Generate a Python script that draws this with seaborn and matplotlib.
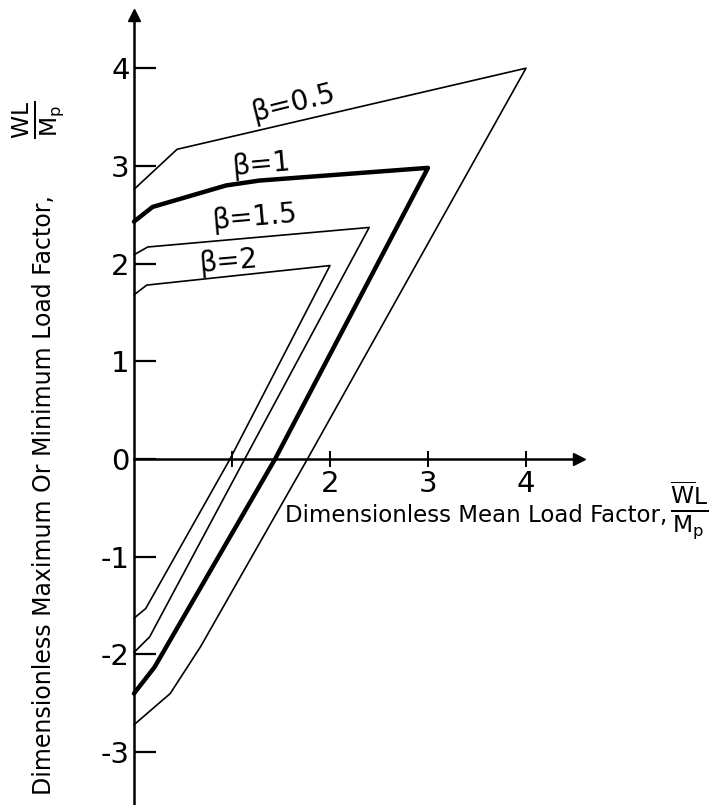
import pandas as pd
import matplotlib.pyplot as plt
import seaborn as sns

sns.set_style('white')
plt.rcParams['font.family'] = ['DejaVu Sans']
plt.rcParams['mathtext.fontset'] = 'dejavusans'
plt.rcParams['text.color'] = 'black'
plt.rcParams['xtick.color'] = 'black'
plt.rcParams['ytick.color'] = 'black'

# ------------------------------------------------------------
# curve vertices
# (mean load factor, max / min load factor)
# ------------------------------------------------------------
x_b05 = [0, 0.44, 4.0, 1.77, 0.68, 0.37, 0]
y_b05 = [2.76, 3.17, 4.0, 0, -1.92, -2.40, -2.72]

x_b1 = [0, 0.19, 0.94, 1.28, 3.0, 1.44, 0.21, 0]
y_b1 = [2.43, 2.58, 2.80, 2.85, 2.98, 0, -2.13, -2.40]

x_b15 = [0, 0.14, 2.4, 1.13, 0.16, 0]
y_b15 = [2.09, 2.17, 2.37, 0, -1.82, -1.98]

x_b2 = [0, 0.13, 2.0, 0.98, 0.12, 0]
y_b2 = [1.68, 1.78, 1.98, 0, -1.53, -1.63]

beta_labels = ['β=0.5', 'β=1', 'β=1.5', 'β=2']
label_x = [1.63, 1.30, 1.23, 0.96]
label_y = [3.64, 3.01, 2.47, 2.02]
label_rot = [14, 5, 5, 5]

y_ticks = [-3, -2, -1, 0, 1, 2, 3, 4]
y_tick_labels = ['-3', '-2', '-1', '0', '1', '2', '3', '4']
x_ticks = [1, 2, 3, 4]
x_tick_labels = ['', '2', '3', '4']

# ------------------------------------------------------------
# figure
# ------------------------------------------------------------
fig = plt.figure(figsize=(7.11, 8.05), dpi=100)
ax = fig.add_axes([0, 0, 1, 1])
ax.set_xlim(-1.367, 5.888)
ax.set_ylim(-3.541, 4.698)

curves = [(x_b05, y_b05, 1.2), (x_b1, y_b1, 3.2), (x_b15, y_b15, 1.2), (x_b2, y_b2, 1.2)]
for xs, ys, lw in curves:
    sns.lineplot(x=xs, y=ys, sort=False, estimator=None, color='black', lw=lw, ax=ax)

for lab, lx, ly, rot in zip(beta_labels, label_x, label_y, label_rot):
    ax.text(lx, ly, lab, fontsize=20, rotation=rot, ha='center', va='center',
            rotation_mode='anchor')

# axes through the origin with arrows
for side in ['top', 'right']:
    ax.spines[side].set_visible(False)
ax.spines['left'].set_position(('data', 0))
ax.spines['bottom'].set_position(('data', 0))
ax.spines['left'].set_bounds(-3.541, 4.5)
ax.spines['bottom'].set_bounds(0, 4.47)
for side in ['left', 'bottom']:
    ax.spines[side].set_color('black')
    ax.spines[side].set_linewidth(1.8)
ax.plot(0, 4.54, marker='^', color='black', ms=9, clip_on=False)
ax.plot(4.54, 0, marker='>', color='black', ms=9, clip_on=False)

ax.set_yticks(y_ticks)
ax.set_yticklabels(y_tick_labels)
ax.set_xticks(x_ticks)
ax.set_xticklabels(x_tick_labels)
ax.tick_params(axis='y', direction='in', length=16, width=1.6, pad=3, labelsize=21,
               left=True)
ax.tick_params(axis='x', direction='inout', length=12, width=1.4, pad=2, labelsize=21,
               bottom=True)

# axis titles
ax.text(1.54, -0.645, 'Dimensionless Mean Load Factor,', fontsize=16.5,
        ha='left', va='baseline')
ax.text(5.66, -0.52, r'$\frac{\overline{\mathsf{W}}\mathsf{L}}{\mathsf{M_p}}$',
        fontsize=24, ha='center', va='center')
ax.text(-0.92, -3.44, 'Dimensionless Maximum Or Minimum Load Factor,', fontsize=17,
        rotation=90, ha='center', va='bottom')
ax.text(-0.98, 3.47, r'$\frac{\mathsf{WL}}{\mathsf{M_p}}$', fontsize=24,
        rotation=90, ha='center', va='center')

plt.savefig('out.png', dpi=100)
plt.close()
